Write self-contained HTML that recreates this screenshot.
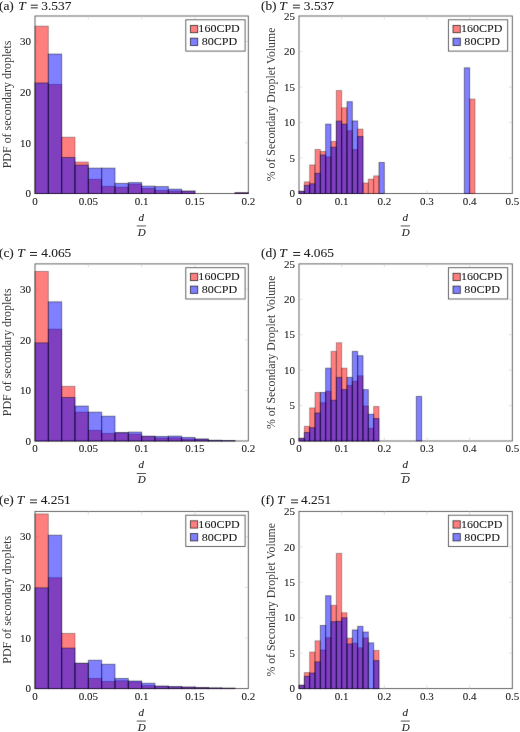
<!DOCTYPE html>
<html><head><meta charset="utf-8"><title>Figure</title><style>html,body{margin:0;padding:0;background:#fff;width:520px;height:732px;overflow:hidden}svg{display:block;font-family:"Liberation Serif",serif}</style></head><body>
<svg width="520" height="732" viewBox="0 0 520 732" font-family="Liberation Serif, serif" fill="#1e1e1e"><style>text{stroke:#1e1e1e;stroke-width:0.1px}</style><defs><filter id="soft" filterUnits="userSpaceOnUse" x="-8" y="-8" width="536" height="748" color-interpolation-filters="sRGB"><feConvolveMatrix order="3" kernelMatrix="0.0052 0.0619 0.0052 0.0619 0.7314 0.0619 0.0052 0.0619 0.0052" divisor="1" edgeMode="duplicate" preserveAlpha="true"/></filter><filter id="soft2" filterUnits="userSpaceOnUse" x="-8" y="-8" width="536" height="748" color-interpolation-filters="sRGB"><feConvolveMatrix order="3" kernelMatrix="0.0000 0.0038 0.0000 0.0038 0.9847 0.0038 0.0000 0.0038 0.0000" divisor="1" edgeMode="none"/></filter></defs><g filter="url(#soft)"><rect x="-10" y="-10" width="540" height="752" fill="#fff"/><rect x="35" y="16" width="213.3" height="177.5" fill="none" stroke="#555" stroke-width="0.9"/>
<path d="M88.33 193.5v-3.5M88.33 16v3.5M141.65 193.5v-3.5M141.65 16v3.5M194.97 193.5v-3.5M194.97 16v3.5M35 142.79h3.5M248.3 142.79h-3.5M35 92.07h3.5M248.3 92.07h-3.5M35 41.36h3.5M248.3 41.36h-3.5" stroke="#c8c8c8" stroke-width="0.6" fill="none"/>
<g fill="#ff0000" fill-opacity="0.5" stroke="#000" stroke-opacity="0.3" stroke-width="1.0"><rect x="35" y="26.14" width="13.33" height="167.36"/><rect x="48.33" y="84.46" width="13.33" height="109.04"/><rect x="61.66" y="137.21" width="13.33" height="56.29"/><rect x="74.99" y="162.06" width="13.33" height="31.44"/><rect x="88.33" y="179.3" width="13.33" height="14.2"/><rect x="101.66" y="186.4" width="13.33" height="7.1"/><rect x="114.99" y="187.16" width="13.33" height="6.34"/><rect x="128.32" y="184.12" width="13.33" height="9.38"/><rect x="141.65" y="188.43" width="13.33" height="5.07"/><rect x="154.98" y="190.46" width="13.33" height="3.04"/><rect x="168.31" y="190.96" width="13.33" height="2.54"/><rect x="181.64" y="191.12" width="13.33" height="2.38"/><rect x="234.97" y="192.74" width="13.33" height="0.76"/></g>
<g fill="#0000ff" fill-opacity="0.5" stroke="#000" stroke-opacity="0.42" stroke-width="1.0"><rect x="35" y="82.94" width="13.33" height="110.56"/><rect x="48.33" y="54.04" width="13.33" height="139.46"/><rect x="61.66" y="157.49" width="13.33" height="36.01"/><rect x="74.99" y="165.1" width="13.33" height="28.4"/><rect x="88.33" y="168.14" width="13.33" height="25.36"/><rect x="101.66" y="168.14" width="13.33" height="25.36"/><rect x="114.99" y="183.36" width="13.33" height="10.14"/><rect x="128.32" y="182.6" width="13.33" height="10.9"/><rect x="141.65" y="186.15" width="13.33" height="7.35"/><rect x="154.98" y="186.6" width="13.33" height="6.9"/><rect x="168.31" y="189.19" width="13.33" height="4.31"/><rect x="181.64" y="191.12" width="13.33" height="2.38"/><rect x="234.97" y="192.74" width="13.33" height="0.76"/></g>
<rect x="185.8" y="19.8" width="59.3" height="31.3" fill="#fff" stroke="#555" stroke-width="0.9"/>
<rect x="190.4" y="25.4" width="7.3" height="7.3" fill="#ff0000" fill-opacity="0.5" stroke="#000" stroke-opacity="0.7" stroke-width="0.9"/>
<rect x="190.4" y="38.2" width="7.3" height="7.3" fill="#0000ff" fill-opacity="0.5" stroke="#000" stroke-opacity="0.7" stroke-width="0.9"/>
<rect x="299" y="16" width="213.3" height="177.5" fill="none" stroke="#555" stroke-width="0.9"/>
<path d="M341.66 193.5v-3.5M341.66 16v3.5M384.32 193.5v-3.5M384.32 16v3.5M426.98 193.5v-3.5M426.98 16v3.5M469.64 193.5v-3.5M469.64 16v3.5M299 158h3.5M512.3 158h-3.5M299 122.5h3.5M512.3 122.5h-3.5M299 87h3.5M512.3 87h-3.5M299 51.5h3.5M512.3 51.5h-3.5" stroke="#c8c8c8" stroke-width="0.6" fill="none"/>
<g fill="#ff0000" fill-opacity="0.5" stroke="#000" stroke-opacity="0.3" stroke-width="1.0"><rect x="299" y="191.23" width="5.33" height="2.27"/><rect x="304.33" y="181.86" width="5.33" height="11.64"/><rect x="309.67" y="164.96" width="5.33" height="28.54"/><rect x="315" y="149.48" width="5.33" height="44.02"/><rect x="320.33" y="151.47" width="5.33" height="42.03"/><rect x="325.66" y="156.86" width="5.33" height="36.64"/><rect x="331" y="141.46" width="5.33" height="52.04"/><rect x="336.33" y="90.55" width="5.33" height="102.95"/><rect x="341.66" y="107.8" width="5.33" height="85.7"/><rect x="346.99" y="130.74" width="5.33" height="62.76"/><rect x="352.32" y="149.62" width="5.33" height="43.88"/><rect x="357.66" y="129.1" width="5.33" height="64.4"/><rect x="362.99" y="182.99" width="5.33" height="10.51"/><rect x="368.32" y="179.16" width="5.33" height="14.34"/><rect x="373.65" y="175.89" width="5.33" height="17.61"/><rect x="469.64" y="99.07" width="5.33" height="94.43"/></g>
<g fill="#0000ff" fill-opacity="0.5" stroke="#000" stroke-opacity="0.42" stroke-width="1.0"><rect x="299" y="191.37" width="5.33" height="2.13"/><rect x="304.33" y="185.41" width="5.33" height="8.09"/><rect x="309.67" y="183.77" width="5.33" height="9.73"/><rect x="315" y="173.26" width="5.33" height="20.24"/><rect x="320.33" y="154.95" width="5.33" height="38.55"/><rect x="325.66" y="124.13" width="5.33" height="69.37"/><rect x="331" y="147.21" width="5.33" height="46.29"/><rect x="336.33" y="121.08" width="5.33" height="72.42"/><rect x="341.66" y="124.13" width="5.33" height="69.37"/><rect x="346.99" y="101.7" width="5.33" height="91.8"/><rect x="352.32" y="120.94" width="5.33" height="72.56"/><rect x="357.66" y="136.49" width="5.33" height="57.01"/><rect x="378.99" y="162.47" width="5.33" height="31.03"/><rect x="464.31" y="67.83" width="5.33" height="125.67"/></g>
<rect x="448.4" y="19.8" width="59.3" height="31.3" fill="#fff" stroke="#555" stroke-width="0.9"/>
<rect x="453" y="25.4" width="7.3" height="7.3" fill="#ff0000" fill-opacity="0.5" stroke="#000" stroke-opacity="0.7" stroke-width="0.9"/>
<rect x="453" y="38.2" width="7.3" height="7.3" fill="#0000ff" fill-opacity="0.5" stroke="#000" stroke-opacity="0.7" stroke-width="0.9"/>
<rect x="35" y="263.9" width="213.3" height="177.1" fill="none" stroke="#555" stroke-width="0.9"/>
<path d="M88.33 441v-3.5M88.33 263.9v3.5M141.65 441v-3.5M141.65 263.9v3.5M194.97 441v-3.5M194.97 263.9v3.5M35 390.4h3.5M248.3 390.4h-3.5M35 339.8h3.5M248.3 339.8h-3.5M35 289.2h3.5M248.3 289.2h-3.5" stroke="#c8c8c8" stroke-width="0.6" fill="none"/>
<g fill="#ff0000" fill-opacity="0.5" stroke="#000" stroke-opacity="0.3" stroke-width="1.0"><rect x="35" y="271.49" width="13.33" height="169.51"/><rect x="48.33" y="329.17" width="13.33" height="111.83"/><rect x="61.66" y="386.35" width="13.33" height="54.65"/><rect x="74.99" y="412.16" width="13.33" height="28.84"/><rect x="88.33" y="430.37" width="13.33" height="10.63"/><rect x="101.66" y="433.41" width="13.33" height="7.59"/><rect x="114.99" y="432.9" width="13.33" height="8.1"/><rect x="128.32" y="434.17" width="13.33" height="6.83"/><rect x="141.65" y="436.45" width="13.33" height="4.55"/><rect x="154.98" y="437.96" width="13.33" height="3.04"/><rect x="168.31" y="437.81" width="13.33" height="3.19"/><rect x="181.64" y="438.98" width="13.33" height="2.02"/><rect x="194.98" y="439.23" width="13.33" height="1.77"/><rect x="208.31" y="440.49" width="13.33" height="0.51"/><rect x="221.64" y="440.75" width="13.33" height="0.25"/></g>
<g fill="#0000ff" fill-opacity="0.5" stroke="#000" stroke-opacity="0.42" stroke-width="1.0"><rect x="35" y="342.84" width="13.33" height="98.16"/><rect x="48.33" y="301.85" width="13.33" height="139.15"/><rect x="61.66" y="397.48" width="13.33" height="43.52"/><rect x="74.99" y="406.09" width="13.33" height="34.91"/><rect x="88.33" y="412.16" width="13.33" height="28.84"/><rect x="101.66" y="416.21" width="13.33" height="24.79"/><rect x="114.99" y="432.5" width="13.33" height="8.5"/><rect x="128.32" y="432.09" width="13.33" height="8.91"/><rect x="141.65" y="436.19" width="13.33" height="4.81"/><rect x="154.98" y="436.45" width="13.33" height="4.55"/><rect x="168.31" y="436.09" width="13.33" height="4.91"/><rect x="181.64" y="437.46" width="13.33" height="3.54"/><rect x="194.98" y="438.98" width="13.33" height="2.02"/><rect x="208.31" y="440.24" width="13.33" height="0.76"/><rect x="221.64" y="440.49" width="13.33" height="0.51"/></g>
<rect x="185.8" y="267.7" width="59.3" height="31.3" fill="#fff" stroke="#555" stroke-width="0.9"/>
<rect x="190.4" y="273.3" width="7.3" height="7.3" fill="#ff0000" fill-opacity="0.5" stroke="#000" stroke-opacity="0.7" stroke-width="0.9"/>
<rect x="190.4" y="286.1" width="7.3" height="7.3" fill="#0000ff" fill-opacity="0.5" stroke="#000" stroke-opacity="0.7" stroke-width="0.9"/>
<rect x="299" y="263.9" width="213.3" height="177.1" fill="none" stroke="#555" stroke-width="0.9"/>
<path d="M341.66 441v-3.5M341.66 263.9v3.5M384.32 441v-3.5M384.32 263.9v3.5M426.98 441v-3.5M426.98 263.9v3.5M469.64 441v-3.5M469.64 263.9v3.5M299 405.58h3.5M512.3 405.58h-3.5M299 370.16h3.5M512.3 370.16h-3.5M299 334.74h3.5M512.3 334.74h-3.5M299 299.32h3.5M512.3 299.32h-3.5" stroke="#c8c8c8" stroke-width="0.6" fill="none"/>
<g fill="#ff0000" fill-opacity="0.5" stroke="#000" stroke-opacity="0.3" stroke-width="1.0"><rect x="299" y="438.17" width="5.33" height="2.83"/><rect x="304.33" y="426.34" width="5.33" height="14.66"/><rect x="309.67" y="407.92" width="5.33" height="33.08"/><rect x="315" y="392.55" width="5.33" height="48.45"/><rect x="320.33" y="402.75" width="5.33" height="38.25"/><rect x="325.66" y="391.27" width="5.33" height="49.73"/><rect x="331" y="351.39" width="5.33" height="89.61"/><rect x="336.33" y="342.74" width="5.33" height="98.26"/><rect x="341.66" y="368.18" width="5.33" height="72.82"/><rect x="346.99" y="385.46" width="5.33" height="55.54"/><rect x="352.32" y="381.28" width="5.33" height="59.72"/><rect x="357.66" y="375.83" width="5.33" height="65.17"/><rect x="362.99" y="406.01" width="5.33" height="34.99"/><rect x="368.32" y="428.25" width="5.33" height="12.75"/><rect x="373.65" y="406.5" width="5.33" height="34.5"/></g>
<g fill="#0000ff" fill-opacity="0.5" stroke="#000" stroke-opacity="0.42" stroke-width="1.0"><rect x="299" y="438.52" width="5.33" height="2.48"/><rect x="304.33" y="432.5" width="5.33" height="8.5"/><rect x="309.67" y="427.68" width="5.33" height="13.32"/><rect x="315" y="412.95" width="5.33" height="28.05"/><rect x="320.33" y="392.55" width="5.33" height="48.45"/><rect x="325.66" y="368.18" width="5.33" height="72.82"/><rect x="331" y="400.27" width="5.33" height="40.73"/><rect x="336.33" y="377.39" width="5.33" height="63.61"/><rect x="341.66" y="389.64" width="5.33" height="51.36"/><rect x="346.99" y="377.39" width="5.33" height="63.61"/><rect x="352.32" y="351.39" width="5.33" height="89.61"/><rect x="357.66" y="355.71" width="5.33" height="85.29"/><rect x="362.99" y="389.64" width="5.33" height="51.36"/><rect x="368.32" y="414.22" width="5.33" height="26.78"/><rect x="373.65" y="418.54" width="5.33" height="22.46"/><rect x="416.31" y="396.44" width="5.33" height="44.56"/></g>
<rect x="448.4" y="267.7" width="59.3" height="31.3" fill="#fff" stroke="#555" stroke-width="0.9"/>
<rect x="453" y="273.3" width="7.3" height="7.3" fill="#ff0000" fill-opacity="0.5" stroke="#000" stroke-opacity="0.7" stroke-width="0.9"/>
<rect x="453" y="286.1" width="7.3" height="7.3" fill="#0000ff" fill-opacity="0.5" stroke="#000" stroke-opacity="0.7" stroke-width="0.9"/>
<rect x="35" y="511.4" width="213.3" height="177.2" fill="none" stroke="#555" stroke-width="0.9"/>
<path d="M88.33 688.6v-3.5M88.33 511.4v3.5M141.65 688.6v-3.5M141.65 511.4v3.5M194.97 688.6v-3.5M194.97 511.4v3.5M35 637.97h3.5M248.3 637.97h-3.5M35 587.34h3.5M248.3 587.34h-3.5M35 536.71h3.5M248.3 536.71h-3.5" stroke="#c8c8c8" stroke-width="0.6" fill="none"/>
<g fill="#ff0000" fill-opacity="0.5" stroke="#000" stroke-opacity="0.3" stroke-width="1.0"><rect x="35" y="513.93" width="13.33" height="174.67"/><rect x="48.33" y="577.72" width="13.33" height="110.88"/><rect x="61.66" y="633.41" width="13.33" height="55.19"/><rect x="74.99" y="663.29" width="13.33" height="25.31"/><rect x="88.33" y="678.47" width="13.33" height="10.13"/><rect x="101.66" y="681.51" width="13.33" height="7.09"/><rect x="114.99" y="680.75" width="13.33" height="7.85"/><rect x="128.32" y="681.77" width="13.33" height="6.83"/><rect x="141.65" y="685.56" width="13.33" height="3.04"/><rect x="154.98" y="686.32" width="13.33" height="2.28"/><rect x="168.31" y="686.83" width="13.33" height="1.77"/><rect x="181.64" y="687.08" width="13.33" height="1.52"/><rect x="194.98" y="687.59" width="13.33" height="1.01"/><rect x="208.31" y="688.09" width="13.33" height="0.51"/><rect x="221.64" y="688.19" width="13.33" height="0.41"/></g>
<g fill="#0000ff" fill-opacity="0.5" stroke="#000" stroke-opacity="0.42" stroke-width="1.0"><rect x="35" y="587.85" width="13.33" height="100.75"/><rect x="48.33" y="535.2" width="13.33" height="153.4"/><rect x="61.66" y="648.1" width="13.33" height="40.5"/><rect x="74.99" y="663.29" width="13.33" height="25.31"/><rect x="88.33" y="660.25" width="13.33" height="28.35"/><rect x="101.66" y="664.3" width="13.33" height="24.3"/><rect x="114.99" y="678.47" width="13.33" height="10.13"/><rect x="128.32" y="681.01" width="13.33" height="7.59"/><rect x="141.65" y="683.28" width="13.33" height="5.32"/><rect x="154.98" y="686.07" width="13.33" height="2.53"/><rect x="168.31" y="686.57" width="13.33" height="2.03"/><rect x="181.64" y="687.08" width="13.33" height="1.52"/><rect x="194.98" y="687.59" width="13.33" height="1.01"/><rect x="208.31" y="687.84" width="13.33" height="0.76"/><rect x="221.64" y="688.19" width="13.33" height="0.41"/></g>
<rect x="185.8" y="515.2" width="59.3" height="31.3" fill="#fff" stroke="#555" stroke-width="0.9"/>
<rect x="190.4" y="520.8" width="7.3" height="7.3" fill="#ff0000" fill-opacity="0.5" stroke="#000" stroke-opacity="0.7" stroke-width="0.9"/>
<rect x="190.4" y="533.6" width="7.3" height="7.3" fill="#0000ff" fill-opacity="0.5" stroke="#000" stroke-opacity="0.7" stroke-width="0.9"/>
<rect x="299" y="511.4" width="213.3" height="177.2" fill="none" stroke="#555" stroke-width="0.9"/>
<path d="M341.66 688.6v-3.5M341.66 511.4v3.5M384.32 688.6v-3.5M384.32 511.4v3.5M426.98 688.6v-3.5M426.98 511.4v3.5M469.64 688.6v-3.5M469.64 511.4v3.5M299 653.16h3.5M512.3 653.16h-3.5M299 617.72h3.5M512.3 617.72h-3.5M299 582.28h3.5M512.3 582.28h-3.5M299 546.84h3.5M512.3 546.84h-3.5" stroke="#c8c8c8" stroke-width="0.6" fill="none"/>
<g fill="#ff0000" fill-opacity="0.5" stroke="#000" stroke-opacity="0.3" stroke-width="1.0"><rect x="299" y="685.06" width="5.33" height="3.54"/><rect x="304.33" y="672.58" width="5.33" height="16.02"/><rect x="309.67" y="652.1" width="5.33" height="36.5"/><rect x="315" y="640.83" width="5.33" height="47.77"/><rect x="320.33" y="650.04" width="5.33" height="38.56"/><rect x="325.66" y="637.71" width="5.33" height="50.89"/><rect x="331" y="605.32" width="5.33" height="83.28"/><rect x="336.33" y="553.36" width="5.33" height="135.24"/><rect x="341.66" y="612.76" width="5.33" height="75.84"/><rect x="346.99" y="638.13" width="5.33" height="50.47"/><rect x="352.32" y="643.24" width="5.33" height="45.36"/><rect x="357.66" y="647.84" width="5.33" height="40.76"/><rect x="362.99" y="637.92" width="5.33" height="50.68"/><rect x="373.65" y="650.47" width="5.33" height="38.13"/></g>
<g fill="#0000ff" fill-opacity="0.5" stroke="#000" stroke-opacity="0.42" stroke-width="1.0"><rect x="299" y="685.41" width="5.33" height="3.19"/><rect x="304.33" y="676.27" width="5.33" height="12.33"/><rect x="309.67" y="673.01" width="5.33" height="15.59"/><rect x="315" y="661.88" width="5.33" height="26.72"/><rect x="320.33" y="625.45" width="5.33" height="63.15"/><rect x="325.66" y="595.75" width="5.33" height="92.85"/><rect x="331" y="621.69" width="5.33" height="66.91"/><rect x="336.33" y="621.33" width="5.33" height="67.27"/><rect x="341.66" y="617.79" width="5.33" height="70.81"/><rect x="346.99" y="643.95" width="5.33" height="44.65"/><rect x="352.32" y="629.98" width="5.33" height="58.62"/><rect x="357.66" y="626.37" width="5.33" height="62.23"/><rect x="362.99" y="632.04" width="5.33" height="56.56"/><rect x="368.32" y="642.88" width="5.33" height="45.72"/><rect x="373.65" y="660.6" width="5.33" height="28"/></g>
<rect x="448.4" y="515.2" width="59.3" height="31.3" fill="#fff" stroke="#555" stroke-width="0.9"/>
<rect x="453" y="520.8" width="7.3" height="7.3" fill="#ff0000" fill-opacity="0.5" stroke="#000" stroke-opacity="0.7" stroke-width="0.9"/>
<rect x="453" y="533.6" width="7.3" height="7.3" fill="#0000ff" fill-opacity="0.5" stroke="#000" stroke-opacity="0.7" stroke-width="0.9"/></g><g filter="url(#soft2)"><g font-size="11.0"><text x="35" y="204.5" text-anchor="middle">0</text><text x="88.33" y="204.5" text-anchor="middle">0.05</text><text x="141.65" y="204.5" text-anchor="middle">0.1</text><text x="194.97" y="204.5" text-anchor="middle">0.15</text><text x="248.3" y="204.5" text-anchor="middle">0.2</text><text x="31" y="197.25" text-anchor="end">0</text><text x="31" y="146.54" text-anchor="end">10</text><text x="31" y="95.82" text-anchor="end">20</text><text x="31" y="45.11" text-anchor="end">30</text></g>
<text transform="translate(10.9 104.4) rotate(-90)" text-anchor="middle" font-size="11.5" textLength="127.81" lengthAdjust="spacingAndGlyphs" style="stroke-width:0;fill:#3c3c3c">PDF of secondary droplets</text>
<g font-style="italic" font-size="11" text-anchor="middle"><text x="141.25" y="220.9">d</text><text x="141.75" y="235.7">D</text></g>
<rect x="136.7" y="225.5" width="9.2" height="0.9" fill="#444"/>
<g font-size="13.4"><text x="-1.04" y="9.6">(a)</text><text x="18.26" y="9.6" font-style="italic">T</text><rect x="30.8" y="4.7" width="7.0" height="0.95"/><rect x="30.8" y="7.4" width="7.0" height="0.95"/><text x="71.4" y="9.6" text-anchor="end">3.537</text></g>
<g font-size="11.3"><text x="198.38" y="32.3" textLength="41.37" lengthAdjust="spacingAndGlyphs">160CPD</text><text x="201.75" y="45.1" textLength="35.56" lengthAdjust="spacingAndGlyphs">80CPD</text></g>
<g font-size="11.0"><text x="299" y="204.5" text-anchor="middle">0</text><text x="341.66" y="204.5" text-anchor="middle">0.1</text><text x="384.32" y="204.5" text-anchor="middle">0.2</text><text x="426.98" y="204.5" text-anchor="middle">0.3</text><text x="469.64" y="204.5" text-anchor="middle">0.4</text><text x="512.3" y="204.5" text-anchor="middle">0.5</text><text x="295" y="197.25" text-anchor="end">0</text><text x="295" y="161.75" text-anchor="end">5</text><text x="295" y="126.25" text-anchor="end">10</text><text x="295" y="90.75" text-anchor="end">15</text><text x="295" y="55.25" text-anchor="end">20</text><text x="295" y="19.75" text-anchor="end">25</text></g>
<text transform="translate(274.9 104.4) rotate(-90)" text-anchor="middle" font-size="11.5" textLength="153.61" lengthAdjust="spacingAndGlyphs" style="stroke-width:0;fill:#3c3c3c">% of Secondary Droplet Volume</text>
<g font-style="italic" font-size="11" text-anchor="middle"><text x="405.25" y="220.9">d</text><text x="405.75" y="235.7">D</text></g>
<rect x="400.7" y="225.5" width="9.2" height="0.9" fill="#444"/>
<g font-size="13.4"><text x="260.96" y="9.6">(b)</text><text x="279.36" y="9.6" font-style="italic">T</text><rect x="292.9" y="4.7" width="7.0" height="0.95"/><rect x="292.9" y="7.4" width="7.0" height="0.95"/><text x="334" y="9.6" text-anchor="end">3.537</text></g>
<g font-size="11.3"><text x="460.98" y="32.3" textLength="41.37" lengthAdjust="spacingAndGlyphs">160CPD</text><text x="464.35" y="45.1" textLength="35.56" lengthAdjust="spacingAndGlyphs">80CPD</text></g>
<g font-size="11.0"><text x="35" y="452" text-anchor="middle">0</text><text x="88.33" y="452" text-anchor="middle">0.05</text><text x="141.65" y="452" text-anchor="middle">0.1</text><text x="194.97" y="452" text-anchor="middle">0.15</text><text x="248.3" y="452" text-anchor="middle">0.2</text><text x="31" y="444.75" text-anchor="end">0</text><text x="31" y="394.15" text-anchor="end">10</text><text x="31" y="343.55" text-anchor="end">20</text><text x="31" y="292.95" text-anchor="end">30</text></g>
<text transform="translate(10.9 352.3) rotate(-90)" text-anchor="middle" font-size="11.5" textLength="127.81" lengthAdjust="spacingAndGlyphs" style="stroke-width:0;fill:#3c3c3c">PDF of secondary droplets</text>
<g font-style="italic" font-size="11" text-anchor="middle"><text x="141.25" y="468.4">d</text><text x="141.75" y="483.2">D</text></g>
<rect x="136.7" y="473" width="9.2" height="0.9" fill="#444"/>
<g font-size="13.4"><text x="-1.04" y="256.6">(c)</text><text x="17.26" y="256.6" font-style="italic">T</text><rect x="30" y="252" width="7.0" height="0.95"/><rect x="30" y="254.9" width="7.0" height="0.95"/><text x="71.34" y="256.6" text-anchor="end">4.065</text></g>
<g font-size="11.3"><text x="198.38" y="280.2" textLength="41.37" lengthAdjust="spacingAndGlyphs">160CPD</text><text x="201.75" y="293" textLength="35.56" lengthAdjust="spacingAndGlyphs">80CPD</text></g>
<g font-size="11.0"><text x="299" y="452" text-anchor="middle">0</text><text x="341.66" y="452" text-anchor="middle">0.1</text><text x="384.32" y="452" text-anchor="middle">0.2</text><text x="426.98" y="452" text-anchor="middle">0.3</text><text x="469.64" y="452" text-anchor="middle">0.4</text><text x="512.3" y="452" text-anchor="middle">0.5</text><text x="295" y="444.75" text-anchor="end">0</text><text x="295" y="409.33" text-anchor="end">5</text><text x="295" y="373.91" text-anchor="end">10</text><text x="295" y="338.49" text-anchor="end">15</text><text x="295" y="303.07" text-anchor="end">20</text><text x="295" y="267.65" text-anchor="end">25</text></g>
<text transform="translate(274.9 352.3) rotate(-90)" text-anchor="middle" font-size="11.5" textLength="153.61" lengthAdjust="spacingAndGlyphs" style="stroke-width:0;fill:#3c3c3c">% of Secondary Droplet Volume</text>
<g font-style="italic" font-size="11" text-anchor="middle"><text x="405.25" y="468.4">d</text><text x="405.75" y="483.2">D</text></g>
<rect x="400.7" y="473" width="9.2" height="0.9" fill="#444"/>
<g font-size="13.4"><text x="260.96" y="256.6">(d)</text><text x="279.36" y="256.6" font-style="italic">T</text><rect x="293.2" y="252" width="7.0" height="0.95"/><rect x="293.2" y="254.9" width="7.0" height="0.95"/><text x="333.94" y="256.6" text-anchor="end">4.065</text></g>
<g font-size="11.3"><text x="460.98" y="280.2" textLength="41.37" lengthAdjust="spacingAndGlyphs">160CPD</text><text x="464.35" y="293" textLength="35.56" lengthAdjust="spacingAndGlyphs">80CPD</text></g>
<g font-size="11.0"><text x="35" y="699.6" text-anchor="middle">0</text><text x="88.33" y="699.6" text-anchor="middle">0.05</text><text x="141.65" y="699.6" text-anchor="middle">0.1</text><text x="194.97" y="699.6" text-anchor="middle">0.15</text><text x="248.3" y="699.6" text-anchor="middle">0.2</text><text x="31" y="692.35" text-anchor="end">0</text><text x="31" y="641.72" text-anchor="end">10</text><text x="31" y="591.09" text-anchor="end">20</text><text x="31" y="540.46" text-anchor="end">30</text></g>
<text transform="translate(10.9 599.8) rotate(-90)" text-anchor="middle" font-size="11.5" textLength="127.81" lengthAdjust="spacingAndGlyphs" style="stroke-width:0;fill:#3c3c3c">PDF of secondary droplets</text>
<g font-style="italic" font-size="11" text-anchor="middle"><text x="141.25" y="716">d</text><text x="141.75" y="730.8">D</text></g>
<rect x="136.7" y="720.6" width="9.2" height="0.9" fill="#444"/>
<g font-size="13.4"><text x="-1.04" y="504.2">(e)</text><text x="16.76" y="504.2" font-style="italic">T</text><rect x="30" y="499.5" width="7.0" height="0.95"/><rect x="30" y="502.3" width="7.0" height="0.95"/><text x="70.8" y="504.2" text-anchor="end">4.251</text></g>
<g font-size="11.3"><text x="198.38" y="527.7" textLength="41.37" lengthAdjust="spacingAndGlyphs">160CPD</text><text x="201.75" y="540.5" textLength="35.56" lengthAdjust="spacingAndGlyphs">80CPD</text></g>
<g font-size="11.0"><text x="299" y="699.6" text-anchor="middle">0</text><text x="341.66" y="699.6" text-anchor="middle">0.1</text><text x="384.32" y="699.6" text-anchor="middle">0.2</text><text x="426.98" y="699.6" text-anchor="middle">0.3</text><text x="469.64" y="699.6" text-anchor="middle">0.4</text><text x="512.3" y="699.6" text-anchor="middle">0.5</text><text x="295" y="692.35" text-anchor="end">0</text><text x="295" y="656.91" text-anchor="end">5</text><text x="295" y="621.47" text-anchor="end">10</text><text x="295" y="586.03" text-anchor="end">15</text><text x="295" y="550.59" text-anchor="end">20</text><text x="295" y="515.15" text-anchor="end">25</text></g>
<text transform="translate(274.9 599.8) rotate(-90)" text-anchor="middle" font-size="11.5" textLength="153.61" lengthAdjust="spacingAndGlyphs" style="stroke-width:0;fill:#3c3c3c">% of Secondary Droplet Volume</text>
<g font-style="italic" font-size="11" text-anchor="middle"><text x="405.25" y="716">d</text><text x="405.75" y="730.8">D</text></g>
<rect x="400.7" y="720.6" width="9.2" height="0.9" fill="#444"/>
<g font-size="13.4"><text x="260.96" y="504.2">(f)</text><text x="277.06" y="504.2" font-style="italic">T</text><rect x="291" y="499.5" width="7.0" height="0.95"/><rect x="291" y="502.3" width="7.0" height="0.95"/><text x="331.1" y="504.2" text-anchor="end">4.251</text></g>
<g font-size="11.3"><text x="460.98" y="527.7" textLength="41.37" lengthAdjust="spacingAndGlyphs">160CPD</text><text x="464.35" y="540.5" textLength="35.56" lengthAdjust="spacingAndGlyphs">80CPD</text></g></g></svg>
</body></html>
